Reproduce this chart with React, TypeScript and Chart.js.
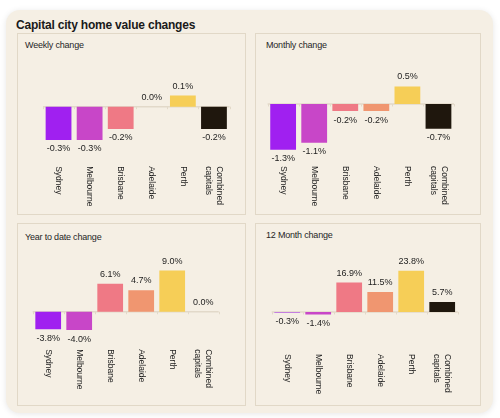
import React, { useEffect, useRef } from "react";
import { Chart, registerables } from "chart.js";

Chart.register(...registerables);

// Categories and series
const cities: (string | string[])[] = ["Sydney", "Melbourne", "Brisbane", "Adelaide", "Perth", ["Combined", "capitals"]];
const cityColors = ["#a020f0", "#c846c8", "#ef7985", "#f09670", "#f6ce57", "#1f170d"];

const weeklyChange = [-0.3, -0.3, -0.2, 0.0, 0.1, -0.2];
const monthlyChange = [-1.3, -1.1, -0.2, -0.2, 0.5, -0.7];
const yearToDateChange = [-3.8, -4.0, 6.1, 4.7, 9.0, 0.0];
const twelveMonthChange = [-0.3, -1.4, 16.9, 11.5, 23.8, 5.7];

// Value-axis bounds for each panel (min, max)
const weeklyRange = [-0.5, 0.4];
const monthlyRange = [-1.65, 1.15];
const yearToDateRange = [-7.3, 10.6];
const twelveMonthRange = [-21.9, 28.2];

const FONT = "'Liberation Sans', Arial, Helvetica, sans-serif";
const TEXT = "#1d1d1d";

const fmt = (v: number) => `${v.toFixed(1)}%`;

// Zero line, category ticks, value labels and rotated category labels
const panelDecor = {
  id: "panelDecor",
  beforeDatasetsDraw(chart: any) {
    const { ctx, chartArea, scales } = chart;
    const x = scales.x;
    const y0 = scales.y.getPixelForValue(0);
    ctx.save();
    ctx.strokeStyle = "#e2d9c9";
    ctx.lineWidth = 1.5;
    ctx.beginPath();
    ctx.moveTo(chartArea.left, y0);
    ctx.lineTo(chartArea.right, y0);
    ctx.stroke();
    const n = chart.data.labels.length;
    const step = (chartArea.right - chartArea.left) / n;
    ctx.lineWidth = 1;
    ctx.beginPath();
    for (let i = 0; i <= n; i++) {
      const px = Math.round(x.getPixelForValue(0) - step / 2 + i * step) + 0.5;
      ctx.moveTo(px, y0);
      ctx.lineTo(px, y0 + 2.5);
    }
    ctx.stroke();
    ctx.restore();
  },
  afterDatasetsDraw(chart: any) {
    const { ctx, chartArea, scales } = chart;
    const meta = chart.getDatasetMeta(0);
    const values: number[] = chart.data.datasets[0].data;
    ctx.save();
    ctx.fillStyle = TEXT;
    ctx.font = `9px ${FONT}`;
    ctx.textAlign = "center";
    ctx.textBaseline = "middle";
    values.forEach((v, i) => {
      const bar = meta.data[i];
      const y = v < 0 ? bar.y + 9 : bar.y - 9.5;
      ctx.fillText(fmt(v), bar.x, y);
    });

    ctx.font = `8.5px ${FONT}`;
    ctx.textAlign = "left";
    const labels = chart.data.labels as (string | string[])[];
    labels.forEach((lab, i) => {
      const lines = Array.isArray(lab) ? lab : [lab];
      const cx = scales.x.getPixelForValue(i);
      ctx.save();
      ctx.translate(cx, chartArea.bottom + 4);
      ctx.rotate(Math.PI / 2);
      lines.forEach((ln, j) => {
        ctx.fillText(ln, 0, (j - (lines.length - 1) / 2) * 11);
      });
      ctx.restore();
    });
    ctx.restore();
  },
};

type Box = { left: number; top: number; width: number; height: number };
type Pad = { left: number; right: number; top: number; bottom: number };

function ChangePanel(props: {
  title: string;
  values: number[];
  range: number[];
  box: Box;
  pad: Pad;
  titleLeft: number;
  titleMid: number;
}) {
  const ref = useRef<HTMLCanvasElement | null>(null);
  const { title, values, range, box, pad, titleLeft, titleMid } = props;

  useEffect(() => {
    if (!ref.current) return;
    const chart = new Chart(ref.current, {
      type: "bar",
      data: {
        labels: cities as any,
        datasets: [
          {
            data: values,
            backgroundColor: cityColors,
            borderWidth: 0,
            barPercentage: 0.83,
            categoryPercentage: 1,
          },
        ],
      },
      options: {
        animation: false,
        responsive: false,
        maintainAspectRatio: false,
        devicePixelRatio: 1,
        layout: { padding: pad },
        plugins: { legend: { display: false }, tooltip: { enabled: false } },
        scales: {
          x: { display: false },
          y: { display: false, min: range[0], max: range[1] },
        },
      },
      plugins: [panelDecor],
    });
    return () => chart.destroy();
  }, []);

  return (
    <div
      style={{
        position: "absolute",
        left: box.left,
        top: box.top,
        width: box.width,
        height: box.height,
        boxShadow: "inset 0 0 0 1px #e1d8c7",
      }}
    >
      <div
        style={{
          position: "absolute",
          left: titleLeft,
          top: titleMid - 5,
          fontSize: 9,
          lineHeight: "10px",
          letterSpacing: "-0.2px",
          color: "#262626",
          whiteSpace: "nowrap",
        }}
      >
        {title}
      </div>
      <canvas
        ref={ref}
        width={box.width}
        height={box.height}
        style={{ position: "absolute", left: 0, top: 0, width: box.width, height: box.height }}
      />
    </div>
  );
}

export default function App() {
  return (
    <div
      style={{
        position: "fixed",
        left: 0,
        top: 0,
        width: 500,
        height: 418,
        background: "#ffffff",
        overflow: "hidden",
        fontFamily: FONT,
      }}
    >
      <div
        style={{
          position: "absolute",
          left: 6,
          top: 10,
          width: 487,
          height: 403,
          borderRadius: 14,
          background: "#f5efe4",
          boxShadow: "0 1px 6px rgba(0,0,0,0.10)",
        }}
      />
      <div
        style={{
          position: "absolute",
          left: 16,
          top: 18,
          fontSize: 12,
          lineHeight: "14px",
          fontWeight: 700,
          letterSpacing: "-0.2px",
          color: "#1a1a1a",
          whiteSpace: "nowrap",
        }}
      >
        Capital city home value changes
      </div>
      <ChangePanel
        title="Weekly change"
        values={weeklyChange}
        range={weeklyRange}
        box={{ left: 17, top: 33, width: 229, height: 182 }}
        pad={{ left: 26, right: 16.5, top: 29.3, bottom: 52.8 }}
        titleLeft={8}
        titleMid={12}
      />
      <ChangePanel
        title="Monthly change"
        values={monthlyChange}
        range={monthlyRange}
        box={{ left: 255, top: 33, width: 226, height: 182 }}
        pad={{ left: 12.6, right: 27, top: 30.5, bottom: 52.9 }}
        titleLeft={11}
        titleMid={12}
      />
      <ChangePanel
        title="Year to date change"
        values={yearToDateChange}
        range={yearToDateRange}
        box={{ left: 17, top: 223, width: 229, height: 183 }}
        pad={{ left: 15.7, right: 27.3, top: 40.2, bottom: 60.8 }}
        titleLeft={8}
        titleMid={13.5}
      />
      <ChangePanel
        title="12 Month change"
        values={twelveMonthChange}
        range={twelveMonthRange}
        box={{ left: 255, top: 223, width: 226, height: 183 }}
        pad={{ left: 16.7, right: 23.3, top: 40, bottom: 56 }}
        titleLeft={11}
        titleMid={12}
      />
    </div>
  );
}
